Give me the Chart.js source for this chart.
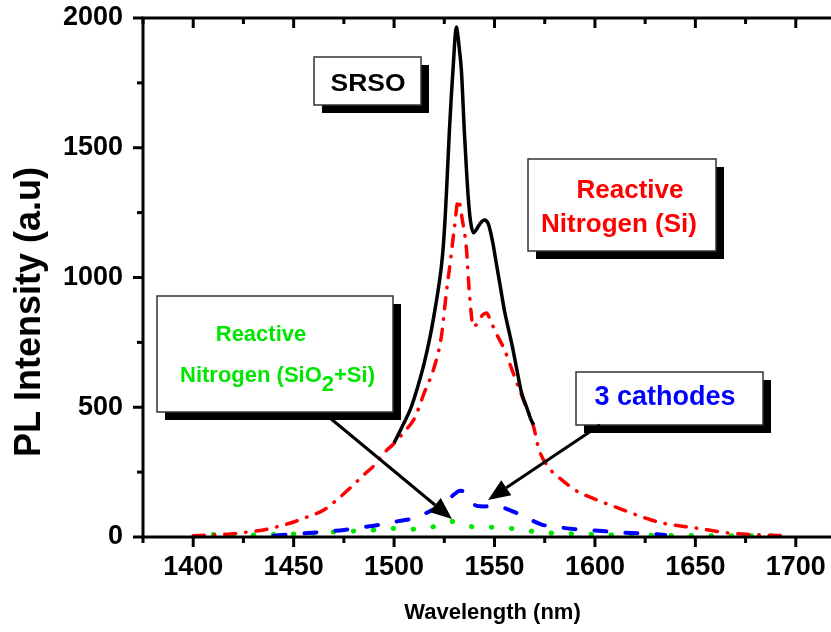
<!DOCTYPE html>
<html>
<head>
<meta charset="utf-8">
<script src="https://cdn.jsdelivr.net/npm/chart.js@4.4.1/dist/chart.umd.min.js"></script>
<style>
  html, body { margin: 0; padding: 0; background: #fff; overflow: hidden; }
  #wrap { width: 842px; height: 632px; }
</style>
</head>
<body>
<div id="wrap"><canvas id="plChart" width="842" height="632"></canvas></div>
<script>
// SRSO (solid black)
const srsoWavelength = [1500, 1504, 1508.5, 1512, 1515, 1518, 1520, 1522, 1523.5, 1524.5, 1525.5, 1526.5, 1527.5, 1528.5, 1529.5, 1530.5, 1531, 1531.8, 1532.5, 1533.5, 1535, 1536, 1537, 1538, 1539.5, 1541, 1543, 1545, 1547, 1549, 1551, 1553, 1555, 1557, 1559, 1561, 1563.5, 1566, 1568, 1569.5];
const srsoIntensity = [362, 425, 500, 585, 670, 775, 860, 955, 1040, 1120, 1240, 1395, 1560, 1700, 1820, 1940, 1965, 1930, 1880, 1800, 1560, 1420, 1300, 1220, 1172, 1185, 1210, 1222, 1205, 1140, 1050, 960, 870, 800, 730, 650, 555, 500, 455, 432];

// Reactive Nitrogen (Si) (red dash-dot)
const siWavelength = [1400, 1410, 1418.5, 1428, 1435, 1442, 1448.5, 1456, 1465, 1471, 1477, 1485, 1490, 1495, 1500, 1505, 1510, 1515, 1520, 1523.5, 1526, 1528, 1530, 1532, 1534, 1536, 1537.5, 1539.5, 1542, 1544, 1546, 1548, 1550, 1555, 1560, 1565, 1569.5, 1572, 1577, 1583.5, 1592, 1597.5, 1603.5, 1617, 1623.5, 1633.5, 1650, 1667, 1683.5, 1695];
const siIntensity = [5, 8, 12, 20, 27, 40, 54, 75, 104, 140, 181, 240, 275, 324, 360, 405, 455, 555, 655, 771, 940, 1060, 1190, 1300, 1221, 1113, 940, 810, 830, 855, 863, 835, 798, 721, 617, 516, 424, 340, 268, 220, 172, 154, 135, 96, 77, 54, 35, 15, 8, 5];

// 3 cathodes (blue dashed)
const cathWavelength = [1440, 1452, 1465, 1475, 1485, 1492, 1500, 1510, 1518, 1524, 1527, 1530, 1533, 1536, 1538.5, 1541, 1545, 1550, 1557.5, 1567, 1573.5, 1583.5, 1593.5, 1600, 1612, 1623.5, 1635];
const cathIntensity = [5, 12, 20, 27, 38, 46, 58, 73, 100, 125, 143, 165, 178, 168, 140, 120, 118, 120, 104, 70, 48, 36, 28, 25, 18, 14, 8];

// Reactive Nitrogen (SiO2+Si) (green dotted)
const mixWavelength = [1410, 1420, 1430, 1440, 1450, 1460, 1468.5, 1478, 1490, 1498.5, 1508.5, 1518.5, 1524, 1528.5, 1533, 1538.5, 1548.5, 1558.5, 1568.5, 1578.5, 1590, 1600, 1620, 1640, 1660, 1680, 1697];
const mixIntensity = [10, 8, 8, 10, 12, 15, 19, 22, 27, 33, 30, 38, 48, 60, 50, 40, 38, 33, 22, 15, 12, 10, 8, 6, 5, 5, 5];

// axis ticks
const xMajorTicks = [1400, 1450, 1500, 1550, 1600, 1650, 1700];
const xMinorTicks = [1375, 1425, 1475, 1525, 1575, 1625, 1675, 1725];
const yMajorTicks = [0, 500, 1000, 1500, 2000];
const yMinorTicks = [250, 750, 1250, 1750];

const FONT = '"Liberation Sans", Arial, sans-serif';

const toPoints = (xs, ys) => xs.map((x, i) => ({ x: x, y: ys[i] }));

/**
 * Frame, tick marks, labelled boxes and arrows
 */
const framePlugin = {
    id: 'frame',
    afterDraw(chart) {
        const { ctx, chartArea: a, scales: { x, y } } = chart;
        ctx.save();
        ctx.strokeStyle = '#000';
        ctx.lineWidth = 3;
        ctx.lineCap = 'butt';

        // box frame
        ctx.strokeRect(a.left, a.top, a.right - a.left, a.bottom - a.top);

        const line = (x1, y1, x2, y2) => {
            ctx.beginPath();
            ctx.moveTo(x1, y1);
            ctx.lineTo(x2, y2);
            ctx.stroke();
        };

        // x ticks: out at bottom, in at top
        xMajorTicks.forEach(v => {
            const px = x.getPixelForValue(v);
            line(px, a.bottom, px, a.bottom + 10);
            line(px, a.top, px, a.top + 10);
        });
        xMinorTicks.forEach(v => {
            const px = x.getPixelForValue(v);
            if (px < a.left || px > a.right) return;
            line(px, a.bottom, px, a.bottom + 6);
            line(px, a.top, px, a.top + 6);
        });
        // y ticks: out at left, in at right
        yMajorTicks.forEach(v => {
            const py = y.getPixelForValue(v);
            line(a.left - 10, py, a.left, py);
            line(a.right - 10, py, a.right, py);
        });
        yMinorTicks.forEach(v => {
            const py = y.getPixelForValue(v);
            line(a.left - 6, py, a.left, py);
            line(a.right - 6, py, a.right, py);
        });

        // y axis title
        ctx.save();
        ctx.translate(30, 312);
        ctx.rotate(-Math.PI / 2);
        ctx.font = 'bold 36px ' + FONT;
        ctx.fillStyle = '#000';
        ctx.textAlign = 'center';
        ctx.textBaseline = 'middle';
        ctx.fillText('PL Intensity (a.u)', 0, 0);
        ctx.restore();

        // labelled boxes with drop shadow
        const box = (bx, by, bw, bh) => {
            ctx.fillStyle = '#000';
            ctx.fillRect(bx + 8, by + 8, bw, bh);
            ctx.fillStyle = '#fff';
            ctx.fillRect(bx, by, bw, bh);
            ctx.lineWidth = 1.5;
            ctx.strokeStyle = '#333';
            ctx.strokeRect(bx, by, bw, bh);
        };
        ctx.textBaseline = 'alphabetic';

        box(314, 57, 107, 48);
        ctx.save();
        ctx.translate(368, 91);
        ctx.scale(1.15, 1.05);
        ctx.font = 'bold 23px ' + FONT;
        ctx.fillStyle = '#000';
        ctx.textAlign = 'center';
        ctx.fillText('SRSO', 0, 0);
        ctx.restore();

        box(528, 159, 188, 92);
        ctx.font = 'bold 26px ' + FONT;
        ctx.fillStyle = '#ff0000';
        ctx.textAlign = 'center';
        ctx.fillText('Reactive', 630, 198);
        ctx.fillText('Nitrogen (Si)', 619, 232);

        box(157, 296, 236, 116);
        ctx.font = 'bold 22px ' + FONT;
        ctx.fillStyle = '#00e600';
        ctx.textAlign = 'center';
        ctx.fillText('Reactive', 261, 341);
        ctx.textAlign = 'left';
        let tx = 180;
        const parts = [['Nitrogen (SiO', 0], ['2', 9], ['+Si)', 0]];
        parts.forEach(([t, dy]) => {
            ctx.fillText(t, tx, 382 + dy);
            tx += ctx.measureText(t).width;
        });

        box(576, 372, 187, 53);
        ctx.font = 'bold 27px ' + FONT;
        ctx.fillStyle = '#0000ff';
        ctx.textAlign = 'center';
        ctx.fillText('3 cathodes', 665, 405);

        // arrows
        const arrow = (x1, y1, x2, y2) => {
            const ang = Math.atan2(y2 - y1, x2 - x1);
            const len = 22, half = 9;
            const bx = x2 - len * Math.cos(ang), by = y2 - len * Math.sin(ang);
            ctx.strokeStyle = '#000';
            ctx.lineWidth = 3;
            line(x1, y1, bx, by);
            ctx.fillStyle = '#000';
            ctx.beginPath();
            ctx.moveTo(x2, y2);
            ctx.lineTo(bx + half * Math.sin(ang), by - half * Math.cos(ang));
            ctx.lineTo(bx - half * Math.sin(ang), by + half * Math.cos(ang));
            ctx.closePath();
            ctx.fill();
        };
        arrow(330, 418, 452, 519);
        arrow(600, 425, 488, 500);

        ctx.restore();
    }
};

new Chart(document.getElementById('plChart'), {
    type: 'line',
    data: {
        datasets: [
            {
                label: 'SRSO',
                data: toPoints(srsoWavelength, srsoIntensity),
                borderColor: '#000',
                borderWidth: 3.5,
            },
            {
                label: 'Reactive Nitrogen (Si)',
                data: toPoints(siWavelength, siIntensity),
                borderColor: '#ff0000',
                borderWidth: 3.5,
                borderDash: [11, 10, 0.5, 10],
                borderCapStyle: 'round',
            },
            {
                label: '3 cathodes',
                data: toPoints(cathWavelength, cathIntensity),
                borderColor: '#0000ff',
                borderWidth: 4,
                borderDash: [12, 19],
                borderCapStyle: 'round',
            },
            {
                label: 'Reactive Nitrogen (SiO2+Si)',
                data: toPoints(mixWavelength, mixIntensity),
                borderColor: '#00e600',
                borderWidth: 5,
                borderDash: [0.5, 19.5],
                borderCapStyle: 'round',
            },
        ]
    },
    options: {
        responsive: false,
        animation: false,
        layout: { padding: 0 },
        elements: {
            point: { radius: 0 },
            line: { cubicInterpolationMode: 'monotone', fill: false },
        },
        plugins: {
            legend: { display: false },
            tooltip: { enabled: false },
        },
        scales: {
            x: {
                type: 'linear',
                min: 1375,
                max: 1723,
                afterBuildTicks: s => { s.ticks = xMajorTicks.map(v => ({ value: v })); },
                afterFit: s => { s.height = 95; },
                grid: { display: false, drawTicks: false },
                border: { display: false },
                ticks: {
                    autoSkip: false,
                    maxRotation: 0,
                    padding: 14,
                    color: '#000',
                    font: { family: FONT, size: 27, weight: 'bold' },
                    callback: v => String(v),
                },
                title: {
                    display: true,
                    text: 'Wavelength (nm)',
                    color: '#000',
                    font: { family: FONT, size: 22, weight: 'bold' },
                    padding: { top: 0, bottom: 6 },
                },
            },
            y: {
                min: 0,
                max: 2000,
                afterBuildTicks: s => { s.ticks = yMajorTicks.map(v => ({ value: v })); },
                afterFit: s => {
                    s.width = 143;
                    s.paddingTop = 18;
                    s.paddingBottom = 0;
                },
                grid: { display: false, drawTicks: false },
                border: { display: false },
                ticks: {
                    padding: 20,
                    color: '#000',
                    font: { family: FONT, size: 27, weight: 'bold' },
                    callback: v => String(v),
                },
            },
        },
    },
    plugins: [framePlugin]
});
</script>
</body>
</html>
